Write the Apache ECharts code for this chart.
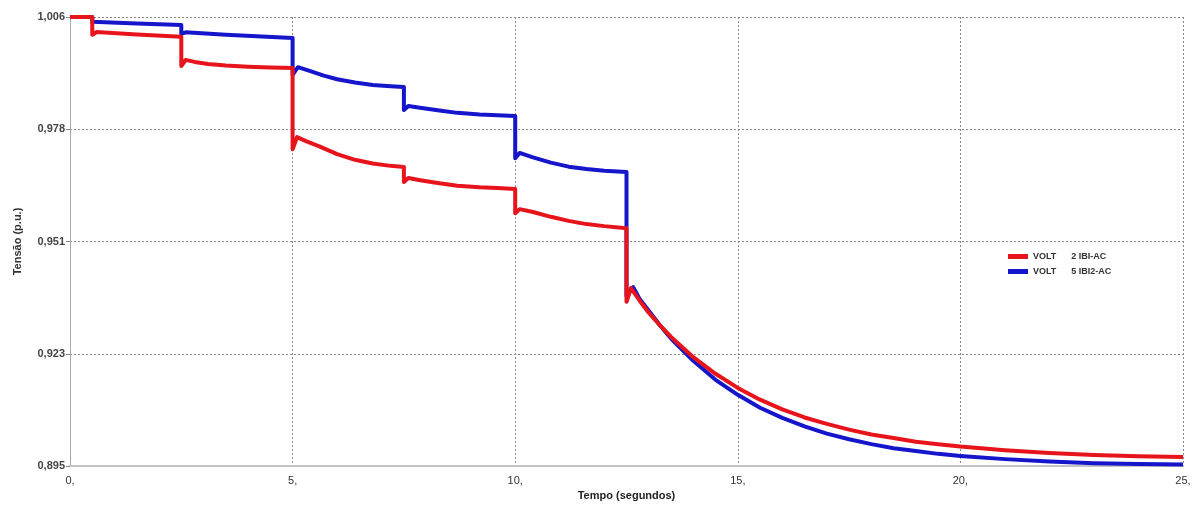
<!DOCTYPE html>
<html>
<head>
<meta charset="utf-8">
<script src="https://cdn.jsdelivr.net/npm/echarts@6/dist/echarts.min.js"></script>
<style>
html,body{margin:0;padding:0;background:#fff;}
#chart{width:1202px;height:510px;}
</style>
</head>
<body>
<div id="chart"></div>
<script>
// ---- data ----
var seriesNames = ['VOLT      2 IBI-AC', 'VOLT      5 IBI2-AC'];

var redTime = [0, 0.5, 0.5, 0.6, 1.5, 2.5, 2.5, 2.6, 2.8, 3.1, 3.5, 4.0, 4.5, 5.0, 5.0, 5.1, 5.3, 5.6, 6.0, 6.4, 6.8, 7.2, 7.5, 7.5, 7.6, 7.9, 8.3, 8.7, 9.2, 9.6, 10.0, 10.0, 10.1, 10.4, 10.8, 11.2, 11.6, 12.0, 12.5, 12.5, 12.6, 12.8, 13.0, 13.25, 13.5, 14.0, 14.5, 15.0, 15.5, 16.0, 16.5, 17.0, 17.5, 18.0, 18.5, 19.0, 19.5, 20.0, 21.0, 22.0, 23.0, 24.0, 25.0];
var redVolt = [1.006, 1.006, 1.0016, 1.0023, 1.0017, 1.0011, 0.9939, 0.9954, 0.9949, 0.9944, 0.9940, 0.9937, 0.9935, 0.9934, 0.9733, 0.9763, 0.9753, 0.9740, 0.9721, 0.9707, 0.9698, 0.9692, 0.9689, 0.9652, 0.9662, 0.9656, 0.9649, 0.9643, 0.9639, 0.9637, 0.9635, 0.9575, 0.9585, 0.9578, 0.9566, 0.9556, 0.9548, 0.9543, 0.9538, 0.9356, 0.9390, 0.9358, 0.9329, 0.9298, 0.9269, 0.9219, 0.9178, 0.9143, 0.9114, 0.9090, 0.9070, 0.9054, 0.9040, 0.9028, 0.9019, 0.9010, 0.9004, 0.8998, 0.8989, 0.8982, 0.8977, 0.8974, 0.8972];

var blueTime = [0, 0.5, 0.5, 1.5, 2.5, 2.5, 2.6, 3.5, 5.0, 5.0, 5.12, 5.4, 5.7, 6.0, 6.4, 6.8, 7.2, 7.5, 7.5, 7.6, 7.9, 8.3, 8.7, 9.2, 9.6, 10.0, 10.0, 10.1, 10.4, 10.8, 11.2, 11.6, 12.0, 12.5, 12.5, 12.65, 12.8, 13.0, 13.25, 13.5, 14.0, 14.5, 15.0, 15.5, 16.0, 16.5, 17.0, 17.5, 18.0, 18.5, 19.0, 19.5, 20.0, 21.0, 22.0, 23.0, 24.0, 25.0];
var blueVolt = [1.006, 1.006, 1.0048, 1.0044, 1.0040, 1.0018, 1.0022, 1.0016, 1.0008, 0.9917, 0.9936, 0.9926, 0.9915, 0.9906, 0.9898, 0.9892, 0.9889, 0.9887, 0.9830, 0.9840, 0.9835, 0.9829, 0.9823, 0.9819, 0.9817, 0.9815, 0.9711, 0.9724, 0.9713, 0.9700, 0.9690, 0.9684, 0.9680, 0.9677, 0.9370, 0.9392, 0.9362, 0.9334, 0.9298, 0.9265, 0.9210, 0.9163, 0.9126, 0.9094, 0.9069, 0.9048, 0.9030, 0.9016, 0.9004, 0.8994, 0.8987, 0.8980, 0.8975, 0.8967, 0.8961, 0.8957, 0.8955, 0.8954];

var yTickLabels = ['0,895', '0,923', '0,951', '0,978', '1,006'];
var xTickLabels = ['0,', '5,', '10,', '15,', '20,', '25,'];

var yMin = 0.895, yMax = 1.006;
var yInterval = (yMax - yMin) / 4;

function zip(a, b) { return a.map(function (t, i) { return [t, b[i]]; }); }

var chart = echarts.init(document.getElementById('chart'), null, {renderer: 'canvas'});
var fontFam = '"Liberation Sans", Arial, sans-serif';

chart.setOption({
  animation: false,
  backgroundColor: '#ffffff',
  grid: {left: 70, right: 19, top: 17, bottom: 44, containLabel: false},
  legend: {
    data: seriesNames,
    orient: 'vertical',
    left: 1003,
    top: 247,
    itemWidth: 20,
    itemHeight: 5,
    itemGap: 6,
    icon: 'rect',
    textStyle: {fontFamily: fontFam, fontSize: 9, fontWeight: 'bold', color: '#333'}
  },
  xAxis: {
    type: 'value',
    min: 0, max: 25, interval: 5,
    name: 'Tempo (segundos)',
    nameLocation: 'middle',
    nameGap: 24,
    nameTextStyle: {fontFamily: fontFam, fontSize: 11, fontWeight: 'bold', color: '#222'},
    axisLine: {show: true, lineStyle: {color: '#c4c4c4', width: 2}},
    axisTick: {show: false},
    axisLabel: {
      fontFamily: fontFam, fontSize: 11, color: '#333', margin: 9,
      formatter: function (v) { return xTickLabels[Math.round(v / 5)]; }
    },
    splitLine: {show: true, lineStyle: {color: '#8a8a8a', type: [2, 2], width: 1}}
  },
  yAxis: {
    type: 'value',
    min: yMin, max: yMax, interval: yInterval,
    name: 'Tensão (p.u.)',
    nameLocation: 'middle',
    nameRotate: 90,
    nameGap: 47,
    nameTextStyle: {fontFamily: fontFam, fontSize: 11, fontWeight: 'bold', color: '#333'},
    axisLine: {show: true, lineStyle: {color: '#aaaaaa', width: 1}},
    axisTick: {show: true, length: 4, lineStyle: {color: '#888'}},
    axisLabel: {
      fontFamily: fontFam, fontSize: 11, fontWeight: 'bold', color: '#444', margin: 5,
      formatter: function (v) { return yTickLabels[Math.round((v - yMin) / yInterval)]; }
    },
    splitLine: {show: true, lineStyle: {color: '#8a8a8a', type: [2, 2], width: 1}}
  },
  series: [
    {
      name: seriesNames[0], type: 'line', z: 3,
      data: zip(redTime, redVolt),
      showSymbol: false, symbol: 'none',
      itemStyle: {color: '#e8141c'},
      lineStyle: {color: '#e8141c', width: 4, join: 'round'}
    },
    {
      name: seriesNames[1], type: 'line', z: 2,
      data: zip(blueTime, blueVolt),
      showSymbol: false, symbol: 'none',
      itemStyle: {color: '#1515cc'},
      lineStyle: {color: '#1515cc', width: 4, join: 'round'}
    }
  ]
});
</script>
</body>
</html>
